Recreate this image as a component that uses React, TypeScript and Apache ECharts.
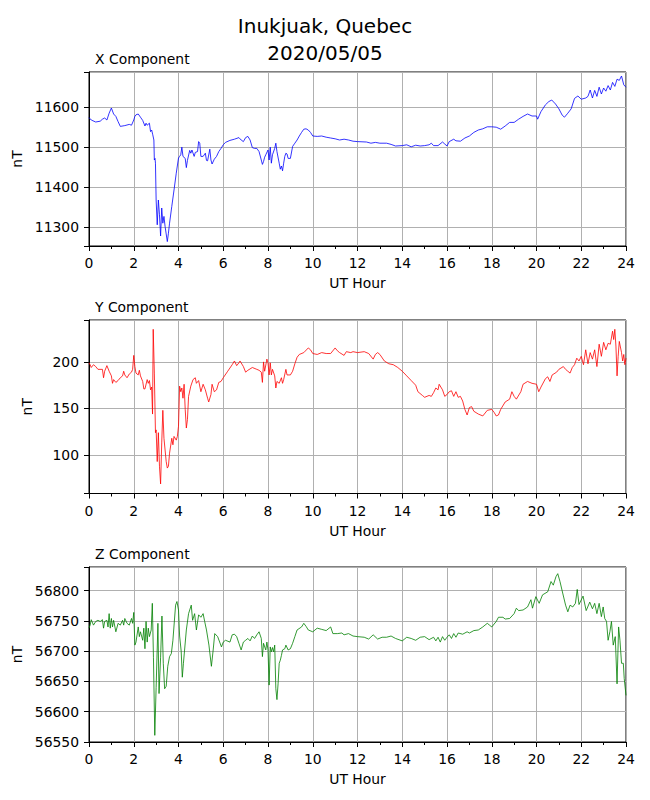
import React, { useEffect, useRef } from "react";
import * as echarts from "echarts";

const mainTitle = "Inukjuak, Quebec\n2020/05/05";
const panelTitles = ["X Component", "Y Component", "Z Component"];
const xAxisName = "UT Hour";
const yAxisName = "nT";
const hourTicks = [0, 24, 2];

const xComp: [number, number][] = [
  [0,11574],[0.1,11568],[0.3,11563],[0.5,11565],[0.6,11570],[0.7,11573],[0.8,11568],[0.9,11585],[1.0,11598],[1.1,11583],[1.2,11577],[1.3,11564],[1.4,11552],[1.6,11554],[1.8,11557],[1.9,11555],[2.0,11568],[2.05,11577],[2.1,11581],[2.2,11583],[2.3,11575],[2.4,11567],[2.5,11553],[2.55,11560],[2.6,11555],[2.7,11560],[2.75,11539],[2.8,11543],[2.85,11531],[2.9,11518],[2.92,11468],[2.95,11472],[2.97,11460],[3.0,11368],[3.05,11306],[3.1,11368],[3.15,11331],[3.2,11278],[3.25,11348],[3.3,11310],[3.35,11327],[3.4,11302],[3.5,11264],[3.55,11285],[3.6,11310],[3.7,11352],[3.8,11393],[3.9,11435],[4.0,11473],[4.05,11477],[4.1,11481],[4.15,11500],[4.2,11477],[4.3,11472],[4.35,11449],[4.4,11467],[4.5,11492],[4.55,11485],[4.6,11493],[4.7,11477],[4.75,11487],[4.85,11489],[4.9,11514],[4.95,11510],[5.0,11477],[5.1,11477],[5.2,11485],[5.25,11467],[5.3,11466],[5.4,11495],[5.45,11468],[5.5,11458],[5.6,11470],[5.7,11477],[5.8,11489],[5.9,11497],[6.0,11506],[6.1,11512],[6.3,11517],[6.5,11520],[6.7,11524],[6.8,11518],[6.9,11514],[7.0,11524],[7.1,11527],[7.2,11518],[7.3,11499],[7.4,11497],[7.5,11497],[7.6,11489],[7.7,11468],[7.75,11457],[7.8,11464],[7.85,11475],[7.9,11481],[8.0,11493],[8.05,11468],[8.1,11500],[8.15,11460],[8.2,11481],[8.3,11497],[8.35,11510],[8.4,11489],[8.5,11460],[8.55,11445],[8.6,11453],[8.65,11441],[8.7,11460],[8.75,11477],[8.8,11485],[8.85,11483],[8.9,11472],[9.0,11472],[9.1,11502],[9.2,11510],[9.3,11518],[9.4,11528],[9.5,11537],[9.6,11545],[9.7,11546],[9.8,11543],[9.9,11537],[10.0,11528],[10.2,11527],[10.4,11528],[10.6,11525],[10.8,11523],[11.0,11521],[11.2,11518],[11.4,11520],[11.6,11518],[11.8,11515],[12.0,11514],[12.4,11513],[12.6,11510],[12.8,11512],[13.0,11510],[13.3,11510],[13.5,11507],[13.7,11503],[14.0,11504],[14.2,11506],[14.4,11501],[14.6,11505],[14.8,11503],[15.0,11504],[15.2,11506],[15.3,11510],[15.4,11504],[15.6,11504],[15.8,11513],[15.9,11508],[16.0,11503],[16.1,11514],[16.3,11520],[16.4,11516],[16.6,11515],[16.8,11523],[17.0,11528],[17.2,11537],[17.4,11543],[17.6,11546],[17.8,11551],[18.0,11551],[18.2,11550],[18.4,11545],[18.6,11553],[18.8,11562],[19.0,11562],[19.2,11570],[19.4,11577],[19.6,11583],[19.8,11578],[20.0,11578],[20.05,11570],[20.2,11589],[20.4,11606],[20.55,11614],[20.68,11618],[20.85,11608],[21.0,11596],[21.15,11580],[21.25,11575],[21.4,11585],[21.55,11596],[21.7,11622],[21.85,11628],[22.0,11620],[22.2,11623],[22.3,11627],[22.4,11643],[22.5,11623],[22.6,11642],[22.7,11627],[22.8,11650],[22.9,11633],[23.0,11648],[23.1,11640],[23.2,11654],[23.3,11643],[23.4,11662],[23.5,11652],[23.6,11670],[23.7,11667],[23.8,11678],[23.9,11656],[24.0,11650]
];

const yComp: [number, number][] = [
  [0.0,199],[0.05,197],[0.1,194],[0.2,197],[0.3,195],[0.4,192],[0.6,192],[0.65,183],[0.7,190],[0.8,196],[0.9,190],[1.0,185],[1.05,177],[1.1,181],[1.2,178],[1.3,180],[1.4,183],[1.5,185],[1.55,190],[1.6,186],[1.7,183],[1.8,187],[1.9,189],[1.95,192],[2.0,207],[2.05,195],[2.1,188],[2.2,186],[2.25,191],[2.3,185],[2.4,179],[2.45,171],[2.5,171],[2.6,181],[2.65,177],[2.7,180],[2.75,170],[2.8,173],[2.84,144],[2.87,235],[2.92,188],[2.97,124],[3.0,127],[3.05,93],[3.1,124],[3.15,88],[3.2,69],[3.25,113],[3.3,148],[3.35,118],[3.45,93],[3.5,86],[3.55,88],[3.6,102],[3.7,118],[3.75,111],[3.8,120],[3.9,116],[3.95,120],[4.0,131],[4.05,174],[4.1,168],[4.15,172],[4.2,161],[4.25,176],[4.3,149],[4.35,129],[4.4,138],[4.45,163],[4.55,174],[4.65,181],[4.75,183],[4.8,177],[4.9,180],[5.0,168],[5.1,176],[5.2,170],[5.3,161],[5.35,157],[5.45,165],[5.5,176],[5.6,168],[5.7,170],[5.8,178],[5.9,179],[6.0,183],[6.2,190],[6.4,197],[6.5,201],[6.6,196],[6.7,199],[6.75,201],[6.9,195],[7.0,189],[7.1,191],[7.3,194],[7.5,192],[7.6,191],[7.7,189],[7.75,178],[7.8,200],[7.85,190],[7.95,203],[8.0,199],[8.05,186],[8.1,199],[8.15,186],[8.2,192],[8.3,185],[8.35,172],[8.4,179],[8.5,177],[8.6,183],[8.65,177],[8.7,181],[8.8,192],[8.85,186],[9.0,186],[9.1,190],[9.2,198],[9.3,205],[9.4,208],[9.6,210],[9.8,215],[9.9,213],[10.0,209],[10.2,208],[10.4,210],[10.6,209],[10.8,209],[11.0,215],[11.1,212],[11.2,210],[11.4,207],[11.5,211],[11.7,210],[11.8,211],[12.0,210],[12.3,211],[12.5,209],[12.7,203],[12.8,208],[12.9,210],[13.0,208],[13.2,201],[13.4,198],[13.6,197],[13.8,194],[14.0,190],[14.2,185],[14.4,180],[14.6,175],[14.7,168],[14.9,164],[15.0,162],[15.2,164],[15.3,163],[15.4,167],[15.5,172],[15.6,170],[15.65,176],[15.8,170],[15.9,163],[16.0,165],[16.1,168],[16.2,169],[16.3,163],[16.4,168],[16.5,162],[16.6,163],[16.7,158],[16.8,149],[16.9,143],[17.0,151],[17.1,152],[17.2,147],[17.4,144],[17.6,142],[17.8,148],[18.0,149],[18.1,146],[18.2,142],[18.3,143],[18.4,149],[18.6,157],[18.8,160],[18.9,168],[19.0,163],[19.1,160],[19.3,168],[19.4,176],[19.6,179],[19.8,177],[20.0,176],[20.1,168],[20.2,173],[20.4,182],[20.5,184],[20.6,179],[20.7,186],[20.9,189],[21.0,192],[21.2,195],[21.3,192],[21.4,190],[21.5,188],[21.6,194],[21.7,197],[21.8,204],[21.9,201],[22.0,206],[22.1,197],[22.2,213],[22.3,198],[22.4,210],[22.5,203],[22.6,213],[22.7,195],[22.8,219],[22.9,206],[23.0,221],[23.1,213],[23.2,220],[23.3,219],[23.4,233],[23.45,224],[23.5,235],[23.55,217],[23.6,185],[23.65,206],[23.7,222],[23.8,210],[23.85,201],[23.9,208],[23.95,197],[24.0,204]
];

const zComp: [number, number][] = [
  [0.0,56738],[0.05,56743],[0.1,56752],[0.2,56743],[0.3,56749],[0.4,56751],[0.5,56749],[0.6,56752],[0.65,56738],[0.7,56749],[0.8,56751],[0.85,56740],[0.9,56762],[0.95,56738],[1.0,56754],[1.05,56740],[1.1,56751],[1.2,56732],[1.3,56746],[1.4,56743],[1.5,56751],[1.55,56743],[1.6,56754],[1.7,56746],[1.8,56743],[1.9,56754],[1.95,56746],[2.0,56764],[2.05,56710],[2.1,56715],[2.2,56740],[2.25,56724],[2.3,56732],[2.4,56718],[2.45,56738],[2.5,56704],[2.55,56749],[2.6,56715],[2.65,56738],[2.7,56724],[2.78,56735],[2.83,56779],[2.88,56690],[2.94,56561],[3.0,56640],[3.08,56746],[3.13,56630],[3.2,56690],[3.26,56758],[3.32,56680],[3.38,56638],[3.45,56642],[3.52,56675],[3.6,56691],[3.68,56696],[3.75,56718],[3.87,56776],[3.93,56782],[4.0,56768],[4.05,56725],[4.12,56700],[4.17,56657],[4.22,56680],[4.35,56735],[4.45,56762],[4.57,56776],[4.63,56751],[4.72,56762],[4.8,56735],[4.9,56760],[5.0,56756],[5.1,56762],[5.17,56749],[5.25,56735],[5.36,56710],[5.47,56675],[5.55,56702],[5.62,56729],[5.75,56724],[5.92,56707],[6.0,56715],[6.1,56718],[6.3,56715],[6.4,56727],[6.5,56728],[6.6,56724],[6.7,56713],[6.8,56702],[6.9,56715],[7.0,56718],[7.1,56721],[7.2,56717],[7.3,56725],[7.4,56721],[7.5,56727],[7.6,56732],[7.7,56721],[7.75,56691],[7.8,56713],[7.9,56702],[7.95,56715],[8.0,56702],[8.05,56644],[8.1,56707],[8.15,56699],[8.2,56706],[8.25,56699],[8.3,56710],[8.35,56638],[8.4,56620],[8.45,56646],[8.5,56680],[8.55,56685],[8.6,56693],[8.65,56702],[8.75,56704],[8.8,56710],[8.9,56702],[9.0,56704],[9.1,56713],[9.2,56724],[9.3,56735],[9.5,56740],[9.6,56746],[9.7,56741],[9.8,56735],[10.0,56732],[10.2,56738],[10.4,56736],[10.6,56734],[10.8,56740],[10.9,56729],[11.1,56729],[11.3,56730],[11.4,56727],[11.6,56729],[11.8,56725],[12.0,56724],[12.3,56723],[12.5,56720],[12.7,56727],[12.9,56720],[13.1,56723],[13.3,56723],[13.5,56725],[13.7,56721],[14.0,56717],[14.2,56723],[14.4,56721],[14.6,56718],[14.8,56723],[15.0,56724],[15.2,56719],[15.4,56723],[15.5,56717],[15.6,56723],[15.7,56715],[15.8,56724],[15.9,56718],[16.0,56723],[16.1,56727],[16.2,56721],[16.3,56729],[16.4,56723],[16.5,56730],[16.7,56728],[16.9,56732],[17.0,56730],[17.2,56734],[17.4,56735],[17.6,56740],[17.8,56746],[17.9,56743],[18.0,56740],[18.2,56749],[18.3,56756],[18.5,56756],[18.6,56753],[18.8,56754],[19.0,56762],[19.1,56771],[19.2,56767],[19.4,56768],[19.6,56773],[19.75,56785],[19.82,56771],[19.97,56790],[20.12,56779],[20.27,56793],[20.5,56798],[20.65,56815],[20.75,56809],[20.87,56823],[20.95,56828],[21.05,56815],[21.17,56796],[21.3,56776],[21.4,56765],[21.5,56776],[21.62,56773],[21.74,56779],[21.82,56802],[21.9,56777],[22.08,56791],[22.22,56767],[22.38,56781],[22.5,56770],[22.6,56779],[22.7,56762],[22.8,56779],[22.9,56757],[22.98,56773],[23.05,56754],[23.13,56749],[23.2,56718],[23.28,56732],[23.35,56749],[23.43,56710],[23.52,56724],[23.6,56646],[23.67,56740],[23.73,56718],[23.8,56680],[23.88,56680],[23.92,56655],[24.0,56627]
];

const yRanges: [number, number, number][] = [
  [11253, 11688, 100],
  [58.7, 245, 50],
  [56550, 56839, 50],
];
const lineColors = ["#0000ff", "#ff0000", "#008000"];
const seriesData = [xComp, yComp, zComp];

const FONT = "DejaVu Sans";
const FS = 13.9;

export default function App() {
  const ref = useRef<HTMLDivElement>(null);
  useEffect(() => {
    if (!ref.current) return;
    const chart = echarts.init(ref.current, undefined, { renderer: "svg" });
    const gridTops = [72, 320, 567];
    const gridHeights = [174, 173.5, 175];
    const grids = gridTops.map((t, i) => ({
      left: 89,
      top: t,
      width: 537,
      height: gridHeights[i],
      show: true,
      borderColor: "#000",
      borderWidth: 1,
      backgroundColor: "transparent",
      containLabel: false,
    }));
    const xAxes = gridTops.map((_, i) => ({
      type: "value",
      gridIndex: i,
      min: hourTicks[0],
      max: hourTicks[1],
      interval: hourTicks[2],
      name: xAxisName,
      nameLocation: "middle",
      nameGap: 30,
      nameTextStyle: { color: "#000", fontSize: FS, fontFamily: FONT },
      axisLine: { show: true, onZero: false, lineStyle: { color: "#000", width: 1 } },
      axisTick: { show: true, length: 5, lineStyle: { color: "#000", width: 1 } },
      minorTick: { show: true, splitNumber: 2, length: 3, lineStyle: { color: "#000", width: 1 } },
      axisLabel: { color: "#000", fontSize: FS, fontFamily: FONT, margin: 10 },
      splitLine: { show: true, lineStyle: { color: "#b0b0b0", width: 1 } },
    }));
    const yAxes = yRanges.map(([mn, mx, step], i) => ({
      type: "value",
      gridIndex: i,
      min: mn,
      max: mx,
      minInterval: step,
      maxInterval: step,
      name: yAxisName,
      nameLocation: "middle",
      nameGap: 55,
      nameRotate: 90,
      nameTextStyle: { color: "#000", fontSize: FS, fontFamily: FONT },
      axisLine: { show: true, onZero: false, lineStyle: { color: "#000", width: 1 } },
      axisTick: { show: true, length: 5, lineStyle: { color: "#000", width: 1 } },
      axisLabel: {
        color: "#000",
        fontSize: FS,
        fontFamily: FONT,
        margin: 10,
        formatter: (v: number) => (Math.abs(v / step - Math.round(v / step)) < 1e-6 ? String(Math.round(v)) : ""),
      },
      splitLine: { show: true, lineStyle: { color: "#b0b0b0", width: 1 } },
    }));
    const series = seriesData.map((d, i) => ({
      type: "line",
      xAxisIndex: i,
      yAxisIndex: i,
      data: d,
      showSymbol: false,
      symbol: "none",
      lineStyle: { color: lineColors[i], width: 0.8 },
      clip: true,
    }));
    const titles: any[] = [
      {
        text: mainTitle,
        left: 325,
        top: 12,
        textAlign: "center",
        padding: 0,
        textStyle: { color: "#000", fontSize: 20, fontWeight: "normal", fontFamily: FONT, lineHeight: 27 },
      },
      ...panelTitles.map((t, i) => ({
        text: t,
        left: 95,
        top: gridTops[i] - 20,
        padding: 0,
        textStyle: { color: "#000", fontSize: FS, fontWeight: "normal", fontFamily: FONT },
      })),
    ];
    chart.setOption({
      animation: false,
      backgroundColor: "#fff",
      title: titles,
      grid: grids,
      xAxis: xAxes,
      yAxis: yAxes,
      series,
    });
    return () => chart.dispose();
  }, []);
  return (
    <div
      ref={ref}
      style={{ position: "absolute", left: 0, top: 0, width: 650, height: 800 }}
    />
  );
}
